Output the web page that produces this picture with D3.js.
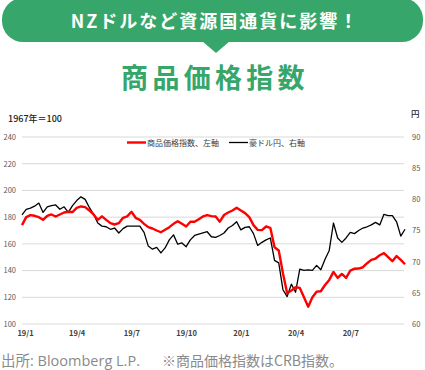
<!DOCTYPE html>
<html><head><meta charset="utf-8">
<script src="https://cdn.jsdelivr.net/npm/d3@7"></script>
<style>
html,body{margin:0;padding:0;background:#fff;}
svg{display:block;font-family:"Noto Sans CJK JP","Noto Sans",sans-serif;}
</style></head>
<body><svg id="c" width="425" height="370"></svg>
<script>
const banner = "NZドルなど資源国通貨に影響！";
const title = "商品価格指数";
const leftUnit = "1967年＝100";
const rightUnit = "円";
const seriesNames = ["商品価格指数、左軸", "豪ドル円、右軸"];
const xLabels = ["19/1","19/4","19/7","19/10","20/1","20/4","20/7"];
const xLabelIdx = [0,13,26,39,52,65,78];
const leftTicks = [100,120,140,160,180,200,220,240];
const rightTicks = [60,65,70,75,80,85,90];
const footer1 = "出所: Bloomberg L.P.";
const footer2 = "※商品価格指数はCRB指数。";

// weekly values, Jan 2019 – Sep 2020
const crb = [174,180,181.5,181,180,178,181,182,180.5,182,183.5,184,183.8,187,188,187.5,185,182,178,180.6,
178,175.5,174.5,175.5,179.5,180.6,184,179.5,178,175,172.5,171.5,170,168.7,170.5,172.5,175,177,175,173,
176.5,176.5,178.5,180.5,181.5,180.8,180.5,176.6,181.6,183.5,185,187,185,183,180,174,170.5,170.3,173,172,
157.5,155,138,123,125,127.5,127,120,113,120,124.2,124.5,129.2,133,139,134.5,137.5,134.5,140,141.4,
141.5,142.5,145.5,148,149,151.5,153,150,147,150.9,148,144.7];
const audjpy = [77.5,78.4,78.6,78.9,79.4,77.9,78.8,79,79.1,78.4,78.8,77.9,79,79.8,80.4,80,78.7,77.6,76.2,75.7,
75.6,75.2,75.4,74.6,75.3,75.7,75.7,75.7,75.7,74.7,72.5,72,72.3,71.4,72.2,73.5,74.3,72.8,73,72.4,
73.5,74.2,74.4,74.6,74.8,74,73.9,74.2,74.6,75.4,75.8,76.4,75.1,75.5,75.6,74.5,72.6,73.1,73.5,73.8,
70.2,69.8,65.5,64.4,66.4,65.1,68.8,68.6,68.7,68.6,69.4,68.7,70.4,71.8,76.2,73.8,73.1,73.8,74.7,74.5,
75,75.4,75.6,75.9,76.3,75.9,77.6,77.4,77.4,76.4,74.1,75.2];

const svg = d3.select("#c");
const green = "#37a66b";

// banner
svg.append("rect").attr("x",2).attr("y",-2).attr("width",421).attr("height",44)
  .attr("rx",21).attr("fill",green);
svg.append("path").attr("d","M202,41 L230,41 L216,53 Z").attr("fill",green);
svg.append("text").attr("x",215).attr("y",28).attr("text-anchor","middle")
  .attr("font-size",18).attr("font-weight","bold").attr("letter-spacing",2)
  .attr("fill","#fff").text(banner);
svg.append("text").attr("x",215).attr("y",88).attr("text-anchor","middle")
  .attr("font-size",27).attr("font-weight","bold").attr("letter-spacing",4.3)
  .attr("fill",green).text(title);

// scales
const x = d3.scaleLinear().domain([0, crb.length-1]).range([22, 405]);
const yL = d3.scaleLinear().domain([100,240]).range([324,137]);
const yR = d3.scaleLinear().domain([60,90]).range([324,137]);

// gridlines
svg.append("g").selectAll("line").data(leftTicks).join("line")
  .attr("x1",22).attr("x2",404).attr("y1",d=>yL(d)).attr("y2",d=>yL(d))
  .attr("stroke","#d9d9d9").attr("stroke-width",1);

// axes
const gl = svg.append("g").attr("transform","translate(16,0)")
  .call(d3.axisLeft(yL).tickValues(leftTicks).tickSize(0).tickPadding(0));
const gr = svg.append("g").attr("transform","translate(412,0)")
  .call(d3.axisRight(yR).tickValues(rightTicks).tickSize(0).tickPadding(0));
[gl,gr].forEach(g=>{
  g.select(".domain").remove();
  g.selectAll("text").attr("font-size",7.5).attr("fill","#595959")
   .attr("font-family",'"Noto Sans CJK JP",sans-serif');
});
const gx = svg.append("g").attr("transform","translate(0,331)")
  .call(d3.axisBottom(x).tickValues(xLabelIdx).tickFormat((d,i)=>xLabels[i]).tickSize(0).tickPadding(0));
gx.select(".domain").remove();
gx.selectAll("text").attr("font-size",7.5).attr("font-weight","bold").attr("fill","#404040")
  .attr("font-family",'"Noto Sans CJK JP",sans-serif');
gx.selectAll(".tick").filter((d,i)=>i===0).select("text").attr("dx",3);

// units
svg.append("text").attr("x",8).attr("y",122).attr("font-size",9).attr("font-weight",500).attr("fill","#222").text(leftUnit);
svg.append("text").attr("x",411).attr("y",117).attr("font-size",8.5).attr("font-weight",500).attr("fill","#222").text(rightUnit);

// lines
const lineL = d3.line().x((d,i)=>x(i)).y(d=>yL(d));
const lineR = d3.line().x((d,i)=>x(i)).y(d=>yR(d));
svg.append("path").datum(audjpy).attr("d",lineR).attr("fill","none")
  .attr("stroke","#000").attr("stroke-width",1.3).attr("stroke-linejoin","round");
svg.append("path").datum(crb).attr("d",lineL).attr("fill","none")
  .attr("stroke","#ff0000").attr("stroke-width",2.4).attr("stroke-linejoin","round");

// legend
const leg = [{x:127, c:"#ff0000", w:2.4, t:seriesNames[0]},{x:229, c:"#000", w:1.3, t:seriesNames[1]}];
leg.forEach(l=>{
  svg.append("line").attr("x1",l.x).attr("x2",l.x+19).attr("y1",142.5).attr("y2",142.5)
    .attr("stroke",l.c).attr("stroke-width",l.w);
  svg.append("text").attr("x",l.x+20).attr("y",145.5).attr("font-size",8).attr("fill","#404040").text(l.t);
});

// footer
svg.append("text").attr("x",1).attr("y",366).attr("font-size",14.5)
  .attr("font-family",'"Open Sans","Noto Sans CJK JP",sans-serif').attr("fill","#8a8a8a").text(footer1);
svg.append("text").attr("x",162).attr("y",366).attr("font-size",14)
  .attr("fill","#8a8a8a").text(footer2);
</script></body></html>
